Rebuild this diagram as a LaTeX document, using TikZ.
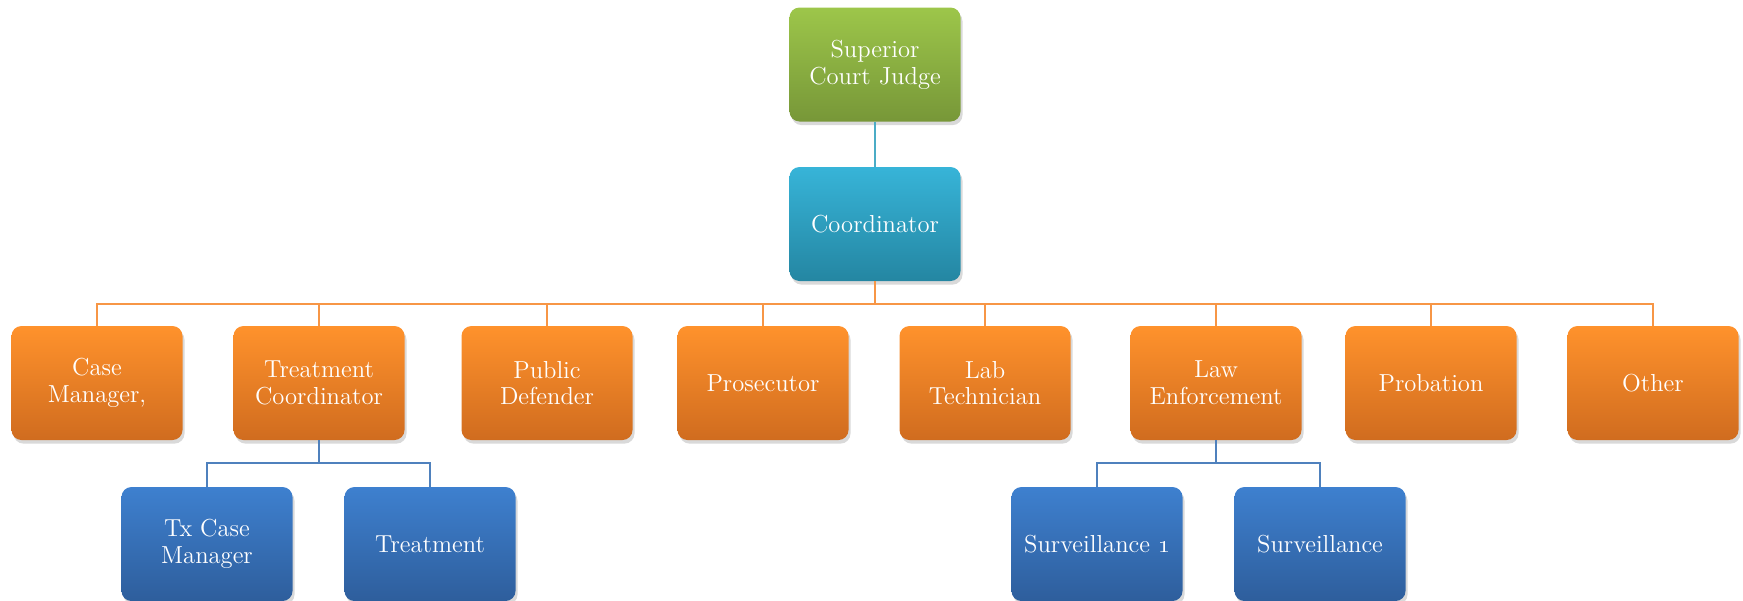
\documentclass[tikz,border=0pt]{standalone}
\usetikzlibrary{shadows}
\definecolor{gtop}{HTML}{9DC64A}
\definecolor{gbot}{HTML}{779738}
\definecolor{ctop}{HTML}{37B4D8}
\definecolor{cbot}{HTML}{2486A2}
\definecolor{otop}{HTML}{FF922C}
\definecolor{obot}{HTML}{D06C1F}
\definecolor{btop}{HTML}{3E80CF}
\definecolor{bbot}{HTML}{2E5E9C}
\definecolor{lnteal}{HTML}{4BACC6}
\definecolor{lnorange}{HTML}{F79646}
\definecolor{lnblue}{HTML}{4F81BD}
\begin{document}
\begin{tikzpicture}[x=0.5pt,y=-0.5pt,
  box/.style={rounded corners=5pt, minimum width=85.5pt, minimum height=57pt,
    inner sep=2pt, align=center, text=white, font=\fontsize{12.3}{13.4}\selectfont,
    drop shadow={shadow xshift=1pt, shadow yshift=-1.8pt, opacity=0.3, fill=gray}},
  greenbox/.style={box, top color=gtop, bottom color=gbot},
  tealbox/.style={box, top color=ctop, bottom color=cbot},
  orangebox/.style={box, top color=otop, bottom color=obot},
  bluebox/.style={box, top color=btop, bottom color=bbot},
  tline/.style={draw=lnteal, line width=1pt},
  oline/.style={draw=lnorange, line width=1pt},
  bline/.style={draw=lnblue, line width=1pt}]
\useasboundingbox (0,0) rectangle (1743,600);
\node[greenbox] (judge) at (875,64.5) {Superior\\Court Judge};
\node[tealbox] (coord) at (875,224) {Coordinator};
\node[orangebox] (cm) at (97,383) {Case\\Manager,};
\node[orangebox] (tc) at (319,383) {Treatment\\Coordinator};
\node[orangebox] (pd) at (547,383) {Public\\Defender};
\node[orangebox] (pr) at (763,383) {Prosecutor};
\node[orangebox] (lab) at (985,383) {Lab\\Technician};
\node[orangebox] (le) at (1216,383) {Law\\Enforcement};
\node[orangebox] (prob) at (1431,383) {Probation};
\node[orangebox] (oth) at (1653,383) {Other};
\node[bluebox] (txcm) at (207,544) {Tx Case\\Manager};
\node[bluebox] (tr) at (430,544) {Treatment};
\node[bluebox] (s1) at (1097,544) {Surveillance \oldstylenums{1}};
\node[bluebox] (s2) at (1320,544) {Surveillance};
\coordinate (bus) at (875,304);
\coordinate (tcbus) at (319,463);
\coordinate (lebus) at (1216,463);
\draw[tline] (judge.south) -- (coord.north);
\draw[oline] (coord.south) -- (bus);
\foreach \n in {cm,tc,pd,pr,lab,le,prob,oth} \draw[oline] (bus) -| (\n.north);
\draw[bline] (tc.south) -- (tcbus);
\draw[bline] (tcbus) -| (txcm.north);
\draw[bline] (tcbus) -| (tr.north);
\draw[bline] (le.south) -- (lebus);
\draw[bline] (lebus) -| (s1.north);
\draw[bline] (lebus) -| (s2.north);
\end{tikzpicture}
\end{document}
